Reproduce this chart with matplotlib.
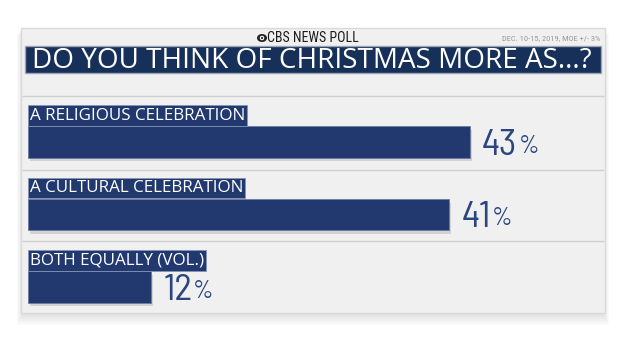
import matplotlib.pyplot as plt
from matplotlib.patches import Rectangle, Ellipse

# DATA ########################################################################

categories = ["A RELIGIOUS CELEBRATION", "A CULTURAL CELEBRATION", "BOTH EQUALLY (VOL.)"]
values = [43, 41, 12]
title = "DO YOU THINK OF CHRISTMAS MORE AS...?"
brand = "CBS NEWS POLL"
note = "DEC. 10-15, 2019, MOE +/- 3%"

NAVY = "#22396f"
TEXT_NAVY = "#2a4580"

WIDE = ["Open Sans", "Roboto", "DejaVu Sans"]
COND = ["Barlow Semi Condensed", "Roboto Condensed", "Roboto", "DejaVu Sans"]
NARROW = ["Roboto Condensed", "Barlow Semi Condensed", "Roboto", "DejaVu Sans"]


def fit_width(t, target_px, renderer):
    # scale font so the text spans target_px pixels
    w = t.get_window_extent(renderer).width
    t.set_fontsize(t.get_fontsize() * target_px / w)


# FIGURE ######################################################################

W, H = 620, 349
fig = plt.figure(figsize=(W / 100, H / 100), dpi=100)
fig.patch.set_facecolor("white")
renderer = fig.canvas.get_renderer()

# background layer in pixel coordinates
bg = fig.add_axes([0, 0, 1, 1])
bg.set_xlim(0, W)
bg.set_ylim(H, 0)
bg.axis("off")

# panel shadow + panel
for k in range(6):
    bg.add_patch(Rectangle((22 - k, 29 + k), 582 + 2 * k, 286 + k,
                           fc="black", ec="none", alpha=0.018, zorder=0))
bg.add_patch(Rectangle((21, 28), 584, 285, fc="#f0f0f0", ec="#dadada", lw=1, zorder=1))

# header
bg.add_patch(Ellipse((262, 38), 10, 8, fc="#222222", ec="none", zorder=2))
bg.add_patch(Ellipse((262, 38), 4.5, 4.5, fc="white", ec="none", zorder=3))
bg.add_patch(Ellipse((262, 38), 2.2, 2.2, fc="#222222", ec="none", zorder=4))
bg.text(267, 38.5, brand, ha="left", va="center", fontsize=10,
        family=NARROW, color="#1c1c1c", zorder=3)
bg.text(600, 38.5, note, ha="right", va="center", fontsize=6,
        family=NARROW, color="#9a9a9a", zorder=3)

# title bar
bg.add_patch(Rectangle((25, 46), 576, 27, fc="#17305a", ec="#9aa4b4", lw=1, zorder=2))
ttl = bg.text(312, 60.5, title, ha="center", va="center", fontsize=17,
              family=WIDE, color="white", zorder=3)
fit_width(ttl, 560, renderer)

# dividers
bg.hlines([96, 170, 241], 22, 604, color="#d0d0d0", lw=1, zorder=2)

# BARS ########################################################################

top_px, bot_px = 105.75, 323.25
ax = fig.add_axes([28 / W, 1 - bot_px / H, 565.4 / W, (bot_px - top_px) / H])
ax.set_xlim(0, 55)
ax.set_ylim(2.5, -0.5)
ax.axis("off")
ax.patch.set_visible(False)

pos = list(range(len(values)))
ax.barh([p + 0.05 for p in pos], values, height=0.43, left=0.15,
        color="black", alpha=0.12, zorder=1)
ax.barh(pos, values, height=0.43, color=NAVY, edgecolor="#6b7ba0", lw=0.6, zorder=2)

labels = []
for i, (cat, v) in enumerate(zip(categories, values)):
    lab = ax.text(0.15, i - 0.255, cat, ha="left", va="bottom", fontsize=12,
                  family=WIDE, color="white", zorder=3,
                  bbox=dict(boxstyle="square,pad=0.12", fc=NAVY, ec="#8593b5", lw=0.6))
    labels.append(lab)
    num = ax.annotate(f"{v}", xy=(v, i), xytext=(12, -3), textcoords="offset pixels",
                      ha="left", va="center", fontsize=27, family=COND,
                      color=TEXT_NAVY, zorder=3)
    ax.annotate("%", xy=(1, 1), xycoords=num, xytext=(1, -6),
                textcoords="offset pixels", ha="left", va="top", fontsize=18,
                family=COND, color=TEXT_NAVY, zorder=3)

w0 = labels[0].get_window_extent(renderer).width
for lab in labels:
    lab.set_fontsize(lab.get_fontsize() * 215 / w0)

plt.savefig("out.png", dpi=100)
